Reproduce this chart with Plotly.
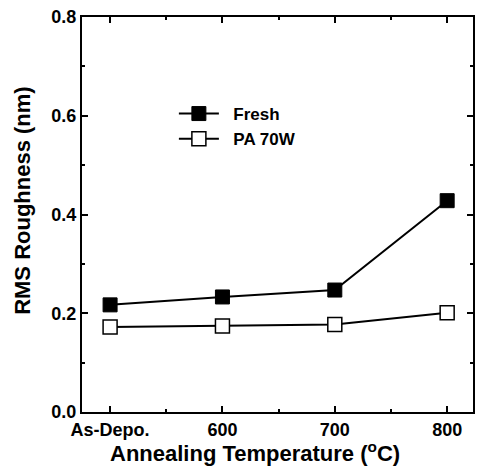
import plotly.graph_objects as go

categories = ["As-Depo.", "600", "700", "800"]
fresh = [0.217, 0.233, 0.247, 0.428]
pa70w = [0.172, 0.174, 0.177, 0.201]

xpos = list(range(len(categories)))
font = "Liberation Sans, Arial, sans-serif"

fig = go.Figure()
fig.add_trace(go.Scatter(
    x=xpos, y=fresh, name="&nbsp;&nbsp;<b>Fresh</b>", mode="lines+markers",
    line=dict(color="black", width=2),
    marker=dict(symbol="square", size=14, color="black", line=dict(color="black", width=1)),
))
fig.add_trace(go.Scatter(
    x=xpos, y=pa70w, name="&nbsp;&nbsp;<b>PA 70W</b>", mode="lines+markers",
    line=dict(color="black", width=2),
    marker=dict(symbol="square", size=14, color="white", line=dict(color="black", width=1.5)),
))

axis_common = dict(
    showline=True, linecolor="black", linewidth=2, mirror="ticks",
    ticks="inside", ticklen=6, tickwidth=2, tickcolor="black",
    showgrid=False, zeroline=False,
    tickfont=dict(family=font, size=18, color="black"),
)

fig.update_xaxes(
    **axis_common,
    range=[-0.25, 3.23],
    tickmode="array", tickvals=xpos, ticktext=["<b>%s</b>" % c for c in categories],
    minor=dict(tickmode="array", tickvals=[0.5, 1.5, 2.5], ticks="inside", ticklen=3, tickwidth=2, tickcolor="black"),
)
fig.update_yaxes(
    **axis_common,
    range=[0, 0.8],
    tickmode="array", tickvals=[0, 0.2, 0.4, 0.6, 0.8],
    ticktext=["<b>0.0</b>", "<b>0.2</b>", "<b>0.4</b>", "<b>0.6</b>", "<b>0.8</b>"],
    minor=dict(tickmode="array", tickvals=[0.1, 0.3, 0.5, 0.7], ticks="inside", ticklen=3, tickwidth=2, tickcolor="black"),
)

fig.add_annotation(
    text="<b>Annealing Temperature (<sup>o</sup>C)</b>", xref="paper", yref="paper",
    x=0.443, y=-0.101, xanchor="center", yanchor="middle", showarrow=False,
    font=dict(family=font, size=22, color="black"),
)
fig.add_annotation(
    text="<b>RMS Roughness (nm)</b>", xref="paper", yref="paper",
    x=-0.153, y=0.535, xanchor="center", yanchor="middle", showarrow=False, textangle=-90,
    font=dict(family=font, size=22, color="black"),
)

fig.update_layout(
    width=482, height=472,
    margin=dict(l=82, r=7, t=16, b=60),
    paper_bgcolor="white", plot_bgcolor="white",
    showlegend=True,
    legend=dict(x=0.235, y=0.80, xanchor="left", yanchor="top", bgcolor="rgba(0,0,0,0)",
                font=dict(family=font, size=17, color="black"), tracegroupgap=0, itemwidth=40),
)

fig.write_html("out.html")
